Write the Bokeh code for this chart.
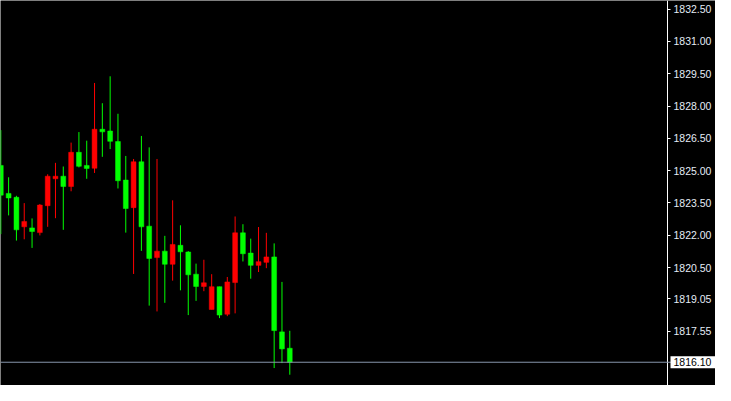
from bokeh.plotting import figure
from bokeh.models import FixedTicker, LinearAxis, Span, Label, Range1d, ColumnDataSource
from bokeh.embed import file_html
from bokeh.resources import INLINE

# ---- data ----
opens  = [1825.24, 1823.94, 1823.76, 1822.39, 1822.34, 1822.12, 1823.37, 1824.62, 1824.74, 1824.26,
          1825.85, 1825.24, 1825.11, 1826.92, 1826.84, 1826.35, 1824.56, 1823.28, 1825.41, 1822.42,
          1820.96, 1821.26, 1820.65, 1821.53, 1821.22, 1820.19, 1819.62, 1818.55, 1819.61, 1818.33,
          1819.80, 1822.11, 1821.17, 1820.60, 1820.74, 1820.99, 1817.51, 1816.75]
highs  = [1826.88, 1824.69, 1823.83, 1823.49, 1822.78, 1823.45, 1824.83, 1825.36, 1825.19, 1826.30,
          1826.79, 1826.39, 1829.07, 1828.13, 1829.38, 1827.64, 1825.68, 1825.54, 1826.61, 1826.08,
          1825.54, 1821.97, 1823.62, 1822.46, 1821.26, 1820.68, 1820.86, 1820.19, 1819.61, 1820.06,
          1822.87, 1822.51, 1821.84, 1822.38, 1822.11, 1821.62, 1819.83, 1817.56]
lows   = [1822.05, 1822.92, 1821.75, 1821.81, 1821.41, 1821.99, 1822.39, 1822.79, 1822.25, 1824.04,
          1825.15, 1824.62, 1824.89, 1825.64, 1826.00, 1824.17, 1822.12, 1820.20, 1821.27, 1818.73,
          1818.46, 1818.86, 1819.89, 1819.44, 1818.29, 1818.95, 1819.40, 1818.55, 1818.15, 1818.24,
          1818.37, 1820.78, 1819.98, 1820.29, 1820.47, 1815.83, 1816.06, 1815.52]
closes = [1823.86, 1823.73, 1822.25, 1822.64, 1822.17, 1823.40, 1824.74, 1824.74, 1824.26, 1825.85,
          1825.20, 1825.10, 1826.92, 1826.80, 1826.36, 1824.53, 1823.24, 1825.41, 1822.39, 1820.92,
          1821.26, 1820.65, 1821.57, 1821.23, 1820.16, 1819.62, 1819.79, 1819.61, 1818.29, 1819.83,
          1822.11, 1821.14, 1820.60, 1820.77, 1820.99, 1817.57, 1816.72, 1816.10]
tick_values = [1832.50, 1831.00, 1829.50, 1828.00, 1826.50, 1825.00, 1823.50, 1822.00, 1820.50,
               1819.05, 1817.55]
tick_labels = ["1832.50", "1831.00", "1829.50", "1828.00", "1826.50", "1825.00", "1823.50", "1822.00",
               "1820.50", "1819.05", "1817.55"]
current_price = 1816.10
current_label = "1816.10"

UP_COLOR = "#ff0000"
DOWN_COLOR = "#00ff00"

idx = list(range(len(opens)))
colors = [UP_COLOR if c > o else DOWN_COLOR for o, c in zip(opens, closes)]
tops = [max(o, c) for o, c in zip(opens, closes)]
bots = [min(o, c) for o, c in zip(opens, closes)]
src = ColumnDataSource(dict(x=idx, high=highs, low=lows, top=tops, bottom=bots, color=colors))

W, H = 715, 385
PX_PER_BAR = 7.81
x_start = -0.04
x_end = x_start + W / PX_PER_BAR
axis_x = x_start + 667 / PX_PER_BAR

p = figure(width=W, height=H, output_backend="svg", toolbar_location=None,
           x_range=Range1d(x_start, x_end), y_range=Range1d(1815.02, 1832.90),
           background_fill_color="black", border_fill_color="black",
           min_border_left=0, min_border_top=0, min_border_bottom=0, min_border_right=0,
           x_axis_location=None, y_axis_location=None)
p.outline_line_color = None
p.xgrid.visible = False
p.ygrid.visible = False

p.segment(x0="x", y0="high", x1="x", y1="low", color="color", line_width=1, source=src)
p.vbar(x="x", width=0.62, top="top", bottom="bottom", fill_color="color", line_color="color",
       line_width=0.5, source=src)

p.add_layout(Span(location=current_price, dimension="width", line_color="#8796ab", line_width=1))

ax = LinearAxis(ticker=FixedTicker(ticks=tick_values), fixed_location=axis_x,
                major_label_overrides={v: s for v, s in zip(tick_values, tick_labels)})
ax.axis_line_color = "white"
ax.axis_line_width = 1
ax.major_tick_line_color = "white"
ax.major_tick_out = 3
ax.major_tick_in = 0
ax.minor_tick_line_color = None
ax.major_label_text_color = "#e4ecf6"
ax.major_label_text_font = "Liberation Sans"
ax.major_label_text_font_size = "10.5px"
ax.major_label_standoff = 3
p.add_layout(ax, "right")

lab = Label(x=axis_x, y=current_price, x_offset=3, text=current_label, text_align="left",
            text_baseline="middle", text_color="black", text_font="Liberation Sans",
            text_font_size="10.5px", background_fill_color="white",
            padding=dict(left=3, right=16, top=2, bottom=2))
p.add_layout(lab)

open("out.html", "w").write(file_html(p, INLINE))
